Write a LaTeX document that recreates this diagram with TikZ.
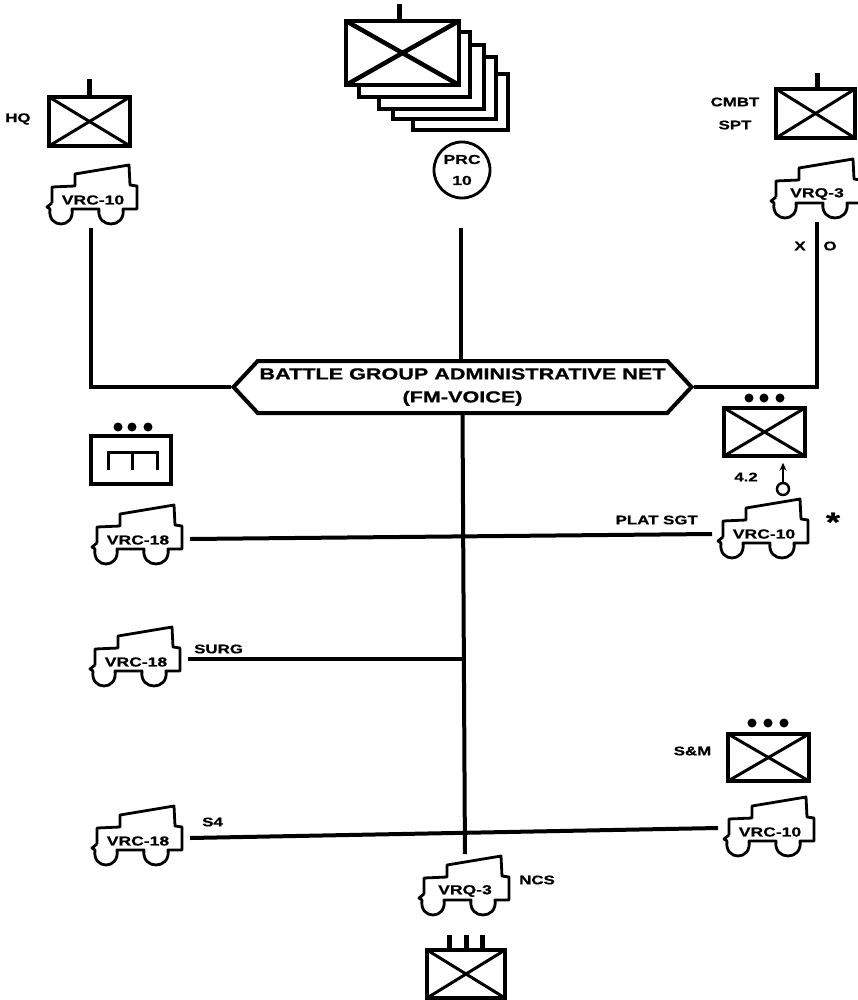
\documentclass[tikz,border=0pt]{standalone}
\usepackage{fontspec}
\usetikzlibrary{shapes.symbols, arrows.meta}
\newfontfamily\milfont[FakeStretch=1.35, BoldFeatures={FakeBold=0.8}]{Liberation Sans}
\tikzset{
    unitbox/.style={draw, line width=4pt, inner sep=0pt, path picture={
        \draw[line width=#1pt] (path picture bounding box.north west) -- (path picture bounding box.south east);
        \draw[line width=#1pt] (path picture bounding box.south west) -- (path picture bounding box.north east);}},
    unitbox/.default=3,
    jeep/.style={inner sep=0pt, outer sep=0pt, minimum width=104pt, minimum height=56pt, font=\milfont\bfseries\fontsize{13}{14}\selectfont},
    tag/.style={inner sep=0pt, font=\milfont\bfseries\fontsize{12.5}{23}\selectfont, align=center},
    net/.style={line width=4pt},
    sheet/.style={line width=4.5pt},
    dot/.style={circle, fill, inner sep=0pt, minimum size=9pt},
    stem/.style={line width=5pt}
}
% vehicle outline round the node that holds its set
\newcommand{\jeepat}[4]{%
    \node[jeep] (#1) at (#2,#3) {#4};
    \draw[line width=2.8pt, line join=round, shift={(#2,#3)}]
        (-41,3) -- (-41,-13) -- (-18,-14) -- (-18,-26) -- (36,-35) -- (37,-15) -- (44,-14) -- (44,9) -- (30,9)
        .. controls (33,29) and (3,29) .. (6,9) -- (-21,9)
        .. controls (-18,29) and (-46,29) .. (-43,9) -- (-46,7) -- (-41,3);
}
\begin{document}
\begin{tikzpicture}[x=1pt, y=-1pt]
    \useasboundingbox (0,0) rectangle (857,1000);

    % Net title
    \node[signal, signal to=west and east, signal pointer angle=94, draw, line width=4pt,
        minimum width=458pt, minimum height=52pt, inner sep=0pt, align=center,
        font=\milfont\bfseries\fontsize{16}{23}\selectfont] (admin) at (462.5,387)
        {\makebox[380pt]{BATTLE GROUP ADMINISTRATIVE NET}\\(FM-VOICE)};

    % Headquarters
    \node[unitbox, minimum width=81pt, minimum height=49pt] (hq) at (89.5,121.5) {};
    \draw[stem] (hq.north) -- ++(0,-16);
    \node[tag, anchor=west] (hqtext) at (5,119) {HQ};
    \jeepat{hqjeep}{93}{200}{VRC-10}

    % Rifle companies
    \draw[sheet] (461,32) -- (470,32) -- (470,97) -- (359,97) -- (359,87);
    \draw[sheet] (470,45) -- (484,45) -- (484,109) -- (379,109) -- (379,97);
    \draw[sheet] (484,57) -- (496,57) -- (496,119) -- (393,119) -- (393,109);
    \draw[sheet] (496,74) -- (508,74) -- (508,130) -- (413,130) -- (413,119);
    \node[unitbox=4.5, minimum width=113pt, minimum height=64pt] (rifle) at (402.5,53) {};
    \draw[stem] ([xshift=-3.5pt]rifle.north) -- ++(0,-15);
    \node[circle, draw, line width=2.8pt, minimum size=56pt, inner sep=0pt, align=center,
        font=\milfont\bfseries\fontsize{13}{21}\selectfont] (prc) at (462,170) {PRC\\10};
    \coordinate (prcend) at (461,228);

    % Combat support
    \node[unitbox, minimum width=79pt, minimum height=49pt] (spt) at (815.5,113.5) {};
    \draw[stem] (817,87) -- (817,73);
    \node[tag] (spttext) at (735,113.5) {CMBT\\SPT};
    \jeepat{sptjeep}{817}{194}{VRQ-3}
    \node[tag] (xmark) at (800,246) {X};
    \node[tag] (omark) at (830,246) {O};

    % Mortars
    \node[dot] at (749,398) {};
    \node[dot] at (764,398) {};
    \node[dot] at (780,398) {};
    \node[unitbox, minimum width=81pt, minimum height=48pt] (mortar) at (764.5,432) {};
    \node[tag] (mortartext) at (746,477) {4.2};
    \node[circle, draw, line width=2.5pt, minimum size=12pt, inner sep=0pt] (tube) at (783,489) {};
    \draw[line width=2.5pt, -{Stealth[length=8pt,width=7pt]}] (tube.north) -- ++(0,-19);
    \jeepat{platjeep}{764}{534}{VRC-10}
    \node[tag, anchor=east] (plattext) at (698,520) {PLAT SGT};
    \node[inner sep=0pt, font=\milfont\bfseries\fontsize{27}{27}\selectfont] (star) at (833,522) {*};

    % Medical
    \node[dot] at (118,427) {};
    \node[dot] at (132,427) {};
    \node[dot] at (148,427) {};
    \node[draw, line width=3.5pt, minimum width=80pt, minimum height=48pt] (medic) at (131,460) {};
    \draw[line width=3pt] (108,470) -- (108,452) -- (157,452) -- (157,470);
    \draw[line width=3pt] (132,452) -- (132,470);
    \jeepat{medjeep}{138}{540}{VRC-18}
    \jeepat{surgjeep}{136}{662}{VRC-18}
    \node[tag, anchor=west] (surgtext) at (194,649) {SURG};
    \jeepat{sfourjeep}{138}{841}{VRC-18}
    \node[tag, anchor=west] (sfourtext) at (202,822) {S4};

    % Supply
    \node[dot] at (752,723) {};
    \node[dot] at (768,723) {};
    \node[dot] at (784,723) {};
    \node[unitbox, minimum width=81pt, minimum height=47pt] (smbox) at (768.5,757.5) {};
    \node[tag] (smtext) at (692.5,751) {S\&M};
    \jeepat{smjeep}{770}{832}{VRC-10}

    % Net control station
    \jeepat{ncsjeep}{465}{891}{VRQ-3}
    \node[tag, anchor=west] (ncstext) at (519,880) {NCS};
    \node[unitbox, minimum width=78pt, minimum height=48pt] (bg) at (466,974) {};
    \draw[stem] (449,948) -- (449,935);
    \draw[stem] (466,948) -- (466,935);
    \draw[stem] (482,948) -- (482,935);

    % Radio links
    \draw[net] ([xshift=-2pt]hqjeep.south) |- (admin.west);
    \draw[net] (prcend) -- (prcend |- admin.north);
    \draw[net] (sptjeep.south) |- (admin.east);
    \draw[net, shorten >=9pt] (admin.south) -- (ncsjeep.north);
    \draw[net] ([yshift=1pt]medjeep.east) -- (platjeep.west);
    \draw[net] ([yshift=3pt]surgjeep.east) -- ([yshift=3pt]surgjeep.east -| admin.south);
    \draw[net] ([yshift=3pt]sfourjeep.east) -- ([yshift=4pt]smjeep.west);
\end{tikzpicture}
\end{document}
